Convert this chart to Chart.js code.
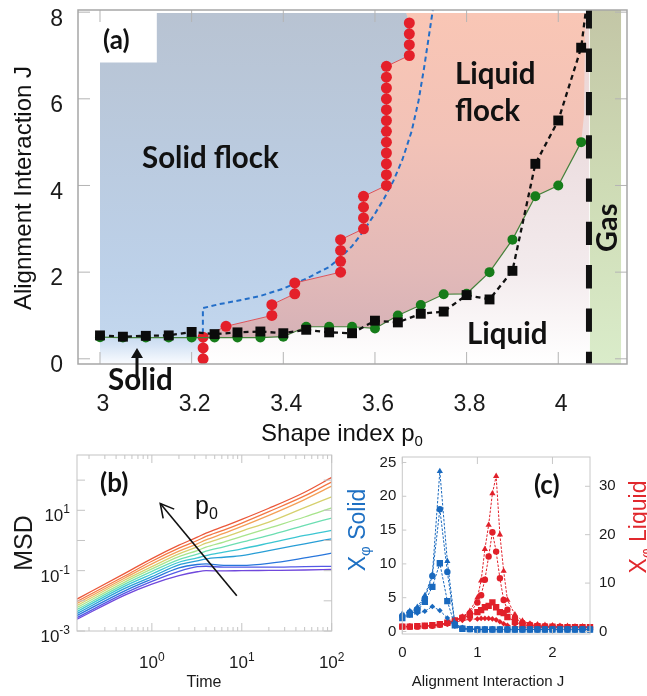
<!DOCTYPE html>
<html>
<head>
<meta charset="utf-8">
<title>Active vertex model phase diagram</title>
<script src="https://cdn.jsdelivr.net/npm/chart.js@4.4.1/dist/chart.umd.min.js"></script>
<style>
  html, body { margin:0; padding:0; background:#ffffff; }
  #fig { position:relative; width:647px; height:696px; overflow:hidden; background:#fff; }
  #fig canvas { position:absolute; }
</style>
</head>
<body>
<div id="fig">
  <canvas id="chartA" width="647" height="460" style="left:0px;top:0px;width:647px;height:460px"></canvas>
  <canvas id="chartB" width="360" height="256" style="left:0px;top:440px;width:360px;height:256px"></canvas>
  <canvas id="chartC" width="317" height="256" style="left:330px;top:440px;width:317px;height:256px"></canvas>
</div>
<script>
const SANS = '"Liberation Sans", Arial, Helvetica, sans-serif';
const BOLD = 'Lato, "Open Sans", "DejaVu Sans", sans-serif';

// ================= Panel (a) data =================
const A_X_TICKS = [3, 3.2, 3.4, 3.6, 3.8, 4];
const A_X_LABELS = ['3', '3.2', '3.4', '3.6', '3.8', '4'];
const A_Y_TICKS = [0, 2, 4, 6, 8];
const A_Y_LABELS = ['0', '2', '4', '6', '8'];
const A_X_RANGE = [2.952, 4.15];
const A_Y_RANGE = [-0.12, 8.05];

const P0 = [3.00,3.05,3.10,3.15,3.20,3.25,3.30,3.35,3.40,3.45,3.50,3.55,3.60,3.65,3.70,3.75,3.80,3.85,3.90,3.95,4.00,4.05];
const J_LIQUID = [0.54,0.51,0.53,0.54,0.62,0.57,0.61,0.63,0.59,0.67,0.61,0.59,0.88,0.84,1.04,1.09,1.47,1.37,2.03,4.50,5.50,7.18];
const J_FLOCK  = [0.50,0.49,0.49,0.49,0.49,0.49,0.49,0.49,0.51,0.74,0.74,0.74,0.70,1.00,1.24,1.49,1.50,2.00,2.75,3.75,4.00,5.00];
const P0_LIQUID_TAIL = [4.061];
const J_LIQUID_TAIL = [8.1];

const RED_P0 = [3.225,3.225,3.225,3.275,3.375,3.375,3.425,3.425,3.525,3.525,3.525,3.525,3.575,3.575,3.575,3.575,
                3.625,3.625,3.625,3.625,3.625,3.625,3.625,3.625,3.625,3.625,3.625,3.625,3.675,3.675,3.675,3.675];
const RED_J  = [0,0.25,0.5,0.75,1,1.25,1.5,1.75,2,2.25,2.5,2.75,3,3.25,3.5,3.75,
                4,4.25,4.5,4.75,5,5.25,5.5,5.75,6,6.25,6.5,6.75,7,7.25,7.5,7.75];

const BLUE_P0 = [3.2245,3.2245,3.26,3.30,3.35,3.40,3.45,3.50,3.525,3.55,3.575,3.60,3.62,3.64,3.66,3.68,3.695,3.707,3.717,3.727];
const BLUE_J  = [0,1.17,1.26,1.34,1.45,1.62,1.85,2.12,2.34,2.6,2.95,3.35,3.7,4.1,4.6,5.25,5.95,6.7,7.4,8.1];

const GAS_P0 = 4.067;
const GAS_BAND = [4.069, 4.137];
const REGION_TOP = 7.98;
const PINK_RIGHT_P0 = [4.059, 4.056];
const PINK_RIGHT_J = [7.98, 5.6];
const LABEL_BOX = [3.124, 6.84];

// ================= Panel (b) data =================
const TIME = [0.147, 0.5, 1, 2, 3.2, 4, 6.3, 10, 20, 50, 100];
const MSD_1  = [0.0114, 0.0815, 0.251, 0.699, 1.29, 1.75, 2.93, 5.01, 11.7, 39.8, 123];
const MSD_2  = [0.0095, 0.0664, 0.205, 0.555, 1.00, 1.36, 2.21, 3.78, 9.03, 30.0, 88];
const MSD_3  = [0.00815, 0.0570, 0.167, 0.441, 0.774, 1.05, 1.71, 2.93, 6.81, 22.7, 63];
const MSD_4  = [0.00699, 0.0489, 0.136, 0.359, 0.615, 0.815, 1.26, 2.05, 4.08, 12.3, 27.8];
const MSD_5  = [0.0060, 0.0419, 0.114, 0.293, 0.464, 0.600, 0.88, 1.36, 2.58, 6.0, 12.0];
const MSD_6  = [0.00514, 0.0359, 0.095, 0.233, 0.350, 0.441, 0.615, 0.88, 1.47, 3.16, 5.55];
const MSD_7  = [0.00441, 0.0308, 0.0774, 0.190, 0.264, 0.316, 0.409, 0.528, 0.815, 1.47, 2.15];
const MSD_8  = [0.00378, 0.0258, 0.0631, 0.155, 0.210, 0.245, 0.278, 0.316, 0.464, 0.774, 1.14];
const MSD_9  = [0.00324, 0.0215, 0.0528, 0.123, 0.160, 0.167, 0.150, 0.150, 0.175, 0.264, 0.378];
const MSD_10 = [0.00278, 0.0180, 0.0441, 0.095, 0.135, 0.140, 0.130, 0.130, 0.130, 0.136, 0.139];
const MSD_11 = [0.00245, 0.0155, 0.0359, 0.0681, 0.092, 0.100, 0.098, 0.100, 0.102, 0.105, 0.110];
const MSD_SERIES = [MSD_1, MSD_2, MSD_3, MSD_4, MSD_5, MSD_6, MSD_7, MSD_8, MSD_9, MSD_10, MSD_11];
const MSD_COLORS = ['rgb(235,88,58)','rgb(244,120,68)','rgb(244,160,88)','rgb(214,208,110)','rgb(168,228,140)',
                    'rgb(108,222,178)','rgb(60,198,210)','rgb(40,158,214)','rgb(40,118,220)','rgb(84,90,230)','rgb(112,72,220)'];
const B_X_MAJOR = [1, 10, 100];
const B_X_EXP = ['0', '1', '2'];
const B_Y_MAJOR = [1e-3, 1e-2, 1e-1, 1, 10, 100];
const B_Y_LABELED = [10, 0.1, 0.001];
const B_Y_EXP = ['1', '-1', '-3'];
const B_X_RANGE = [0.147, 100];
const B_Y_RANGE = [0.001, 681];

// ================= Panel (c) data =================
const C_J_SOLID = [0,0.1,0.2,0.3,0.4,0.5,0.6,0.7,0.8,0.9,1.0,1.1,1.2,1.3,1.4,1.5,1.6,1.7,1.8,1.9,2.0,2.1,2.2,2.3,2.4,2.5];
const SOLID_TRI  = [2.6,3.0,3.6,5.3,8.4,23.7,10.4,1.2,0.5,0.35,0.3,0.3,0.3,0.3,0.3,0.3,0.3,0.3,0.3,0.3,0.3,0.3,0.3,0.3,0.3,0.3];
const SOLID_CIRC = [2.3,2.8,3.3,4.9,8.2,18.1,8.8,1.1,0.45,0.35,0.3,0.3,0.3,0.3,0.3,0.3,0.3,0.3,0.3,0.3,0.3,0.3,0.3,0.3,0.3,0.3];
const SOLID_SQ   = [2.0,2.5,3.1,4.4,6.6,10.1,4.5,0.9,0.4,0.35,0.3,0.3,0.3,0.3,0.3,0.3,0.3,0.3,0.3,0.3,0.3,0.3,0.3,0.3,0.3,0.3];
const SOLID_DIA  = [2.2,2.4,2.7,3.0,3.7,3.1,2.0,0.8,0.4,0.35,0.3,0.3,0.3,0.3,0.3,0.3,0.3,0.3,0.3,0.3,0.3,0.3,0.3,0.3,0.3,0.3];
const C_J_LIQUID = [0,0.1,0.2,0.3,0.4,0.5,0.6,0.7,0.8,0.9,1.0,1.05,1.1,1.15,1.2,1.25,1.3,1.35,1.4,1.5,1.6,1.7,1.8,1.9,2.0,2.1,2.2,2.3,2.4,2.5];
const LIQ_TRI  = [1.0,1.0,1.0,1.1,1.2,1.4,1.8,2.3,3.0,4.2,7.0,10.5,17.0,22.0,28.5,32.1,20.0,12.5,6.5,3.5,2.2,1.6,1.4,1.3,1.2,1.1,1.1,1.0,1.0,0.9];
const LIQ_CIRC = [1.0,1.0,1.0,1.1,1.2,1.4,1.7,2.2,2.9,3.8,6.0,7.5,10.7,15.5,20.5,16.5,11.0,6.5,4.5,2.8,1.8,1.4,1.2,1.1,1.0,1.0,0.9,0.9,0.9,0.9];
const LIQ_SQ   = [1.0,1.0,1.1,1.2,1.3,1.5,1.8,2.3,2.8,3.3,4.0,4.4,5.0,5.3,6.0,5.0,4.0,3.8,3.0,2.0,1.4,1.2,1.1,1.0,1.0,0.9,0.9,0.9,0.9,0.9];
const LIQ_DIA  = [1.0,1.0,1.0,1.1,1.2,1.3,1.5,1.9,2.3,2.5,2.6,2.7,2.7,2.7,2.6,2.4,2.0,1.6,1.3,1.0,0.9,0.9,0.9,0.8,0.8,0.8,0.8,0.8,0.8,0.8];
const C_X_TICKS = [0, 1, 2];
const C_X_LABELS = ['0', '1', '2'];
const C_YL_TICKS = [0, 5, 10, 15, 20, 25];
const C_YL_LABELS = ['0', '5', '10', '15', '20', '25'];
const C_YR_TICKS = [0, 10, 20, 30];
const C_YR_LABELS = ['0', '10', '20', '30'];
const C_X_RANGE = [0, 2.5];
const C_YL_RANGE = [-0.37, 25.81];
const C_YR_RANGE = [-0.52, 36.05];

// ================= helpers =================
const pts = (xs, ys) => xs.map((x, i) => ({ x: x, y: ys[i] }));

function richText(ctx, parts, x, y, opts) {
  opts = opts || {};
  ctx.save();
  ctx.translate(x, y);
  if (opts.rot) ctx.rotate(opts.rot);
  ctx.fillStyle = opts.color || '#111';
  ctx.textBaseline = 'alphabetic';
  ctx.textAlign = 'left';
  let total = 0;
  parts.forEach(p => { ctx.font = p.font; p.w = ctx.measureText(p.t).width; total += p.w; });
  let cx = opts.align === 'center' ? -total / 2 : (opts.align === 'right' ? -total : 0);
  parts.forEach(p => { ctx.font = p.font; ctx.fillText(p.t, cx, p.dy || 0); cx += p.w; });
  ctx.restore();
}

function fillPoly(ctx, sx, sy, xs, ys, fill) {
  ctx.beginPath();
  xs.forEach((v, i) => {
    const px = sx.getPixelForValue(v), py = sy.getPixelForValue(ys[i]);
    if (i === 0) ctx.moveTo(px, py); else ctx.lineTo(px, py);
  });
  ctx.closePath();
  ctx.fillStyle = fill;
  ctx.fill();
}

function vGrad(ctx, sy, stops) {
  const y0 = sy.getPixelForValue(stops[0][0]);
  const y1 = sy.getPixelForValue(stops[stops.length - 1][0]);
  const g = ctx.createLinearGradient(0, y0, 0, y1);
  stops.forEach(s => {
    const f = (sy.getPixelForValue(s[0]) - y0) / (y1 - y0);
    g.addColorStop(Math.min(1, Math.max(0, f)), s[1]);
  });
  return g;
}

function fixedTicks(list) { return s => { s.ticks = list.map(v => ({ value: v })); }; }
function fitBox(dim, size) {
  return s => { s[dim] = size; s.paddingTop = 0; s.paddingBottom = 0; s.paddingLeft = 0; s.paddingRight = 0; };
}

// ================= Panel (a) =================
const regionsA = {
  id: 'regionsA',
  beforeDatasetsDraw(chart) {
    const { ctx, chartArea, scales: { x, y } } = chart;
    ctx.save();
    ctx.beginPath();
    ctx.rect(chartArea.left, chartArea.top, chartArea.right - chartArea.left, chartArea.bottom - chartArea.top);
    ctx.clip();
    const yMin = A_Y_RANGE[0];
    // Liquid (below flocking line)
    fillPoly(ctx, x, y, [3.225, GAS_P0, GAS_P0, 3.225], [yMin, yMin, REGION_TOP, REGION_TOP],
      vGrad(ctx, y, [[REGION_TOP, 'rgb(238,212,210)'], [5, 'rgb(236,221,223)'], [2, 'rgb(243,235,237)'], [yMin, 'rgb(255,255,255)']]));
    // Liquid flock
    const redUp = RED_J.map((j, i) => i).filter(i => RED_J[i] >= 0.5);
    const grIdx = P0.map((p, i) => i).filter(i => P0[i] >= 3.25).reverse();
    const pxs = redUp.map(i => RED_P0[i]).concat([3.668], PINK_RIGHT_P0, grIdx.map(i => P0[i]), [3.225]);
    const pys = redUp.map(i => RED_J[i]).concat([REGION_TOP], PINK_RIGHT_J, grIdx.map(i => J_FLOCK[i]), [0.49]);
    fillPoly(ctx, x, y, pxs, pys,
      vGrad(ctx, y, [[REGION_TOP, 'rgb(249,198,181)'], [5, 'rgb(242,194,183)'], [2, 'rgb(226,185,184)'], [0.5, 'rgb(214,178,183)']]));
    // Solid flock + solid
    const redDown = RED_P0.map((p, i) => i).reverse();
    const bxs = [3.0, 3.0, 3.668].concat(redDown.map(i => RED_P0[i]), [3.225]);
    const bys = [yMin, REGION_TOP, REGION_TOP].concat(redDown.map(i => RED_J[i]), [yMin]);
    fillPoly(ctx, x, y, bxs, bys,
      vGrad(ctx, y, [[REGION_TOP, 'rgb(184,195,210)'], [5, 'rgb(186,202,222)'], [2, 'rgb(189,209,233)'],
                     [0.6, 'rgb(194,214,237)'], [0.3, 'rgb(214,228,245)'], [yMin, 'rgb(250,252,255)']]));
    // Gas
    fillPoly(ctx, x, y, [GAS_BAND[0], GAS_BAND[1], GAS_BAND[1], GAS_BAND[0]], [yMin, yMin, A_Y_RANGE[1], A_Y_RANGE[1]],
      vGrad(ctx, y, [[A_Y_RANGE[1], 'rgb(195,198,166)'], [4, 'rgb(206,219,181)'], [yMin, 'rgb(218,236,202)']]));
    // white label box
    fillPoly(ctx, x, y, [A_X_RANGE[0], LABEL_BOX[0], LABEL_BOX[0], A_X_RANGE[0]],
      [LABEL_BOX[1], LABEL_BOX[1], A_Y_RANGE[1], A_Y_RANGE[1]], '#ffffff');
    ctx.restore();
  }
};

const frameA = {
  id: 'frameA',
  afterDraw(chart) {
    const { ctx, chartArea: { left, right, top, bottom }, scales: { x, y } } = chart;
    ctx.save();
    ctx.strokeStyle = '#b4b4b4';
    ctx.lineWidth = 1;
    ctx.beginPath();
    A_X_TICKS.forEach(v => { const px = x.getPixelForValue(v); ctx.moveTo(px, bottom); ctx.lineTo(px, bottom - 12); ctx.moveTo(px, top); ctx.lineTo(px, top + 12); });
    A_Y_TICKS.forEach(v => { const py = y.getPixelForValue(v); ctx.moveTo(left, py); ctx.lineTo(left + 12, py); ctx.moveTo(right, py); ctx.lineTo(right - 12, py); });
    ctx.stroke();
    ctx.strokeStyle = '#a6a6a6';
    ctx.lineWidth = 1.5;
    ctx.strokeRect(left, top, right - left, bottom - top);

    // annotations
    const B29 = 'bold 29.5px ' + BOLD;
    richText(ctx, [{ t: '(a)', font: 'bold 26px ' + BOLD }], 103, 49);
    richText(ctx, [{ t: 'Solid flock', font: B29 }], 142, 168);
    richText(ctx, [{ t: 'Liquid', font: B29 }], 455, 84);
    richText(ctx, [{ t: 'flock', font: B29 }], 455, 121);
    richText(ctx, [{ t: 'Liquid', font: B29 }], 467, 344);
    richText(ctx, [{ t: 'Solid', font: B29 }], 108, 390);
    richText(ctx, [{ t: 'Gas', font: 'bold 29px ' + BOLD }], 617, 252, { rot: -Math.PI / 2 });
    // arrow to Solid region
    ctx.fillStyle = '#111'; ctx.strokeStyle = '#111';
    ctx.lineWidth = 3;
    ctx.beginPath(); ctx.moveTo(137, 377); ctx.lineTo(137, 356); ctx.stroke();
    ctx.beginPath(); ctx.moveTo(137, 348); ctx.lineTo(131, 358); ctx.lineTo(143, 358); ctx.closePath(); ctx.fill();
    // axis titles
    richText(ctx, [{ t: 'Alignment Interaction J', font: '24px ' + SANS }], 31, 188, { rot: -Math.PI / 2, align: 'center' });
    richText(ctx, [{ t: 'Shape index p', font: '24px ' + SANS }, { t: '0', font: '15px ' + SANS, dy: 5 }], 342, 441, { align: 'center' });
    ctx.restore();
  }
};

new Chart(document.getElementById('chartA'), {
  type: 'scatter',
  data: {
    datasets: [
      { label: 'Gas boundary', data: [{ x: GAS_P0, y: A_Y_RANGE[0] }, { x: GAS_P0, y: A_Y_RANGE[1] }],
        showLine: true, borderColor: '#111', borderWidth: 6, borderDash: [23.3, 20], borderDashOffset: 11,
        borderCapStyle: 'butt', pointRadius: 0, order: 0 },
      { label: 'Liquid onset', data: pts(P0, J_LIQUID).concat(pts(P0_LIQUID_TAIL, J_LIQUID_TAIL)),
        showLine: true, borderColor: '#111', borderWidth: 2.3, borderDash: [5, 4],
        pointStyle: 'rect', pointRadius: c => (c.dataIndex < P0.length ? 7 : 0),
        pointBackgroundColor: '#0b0b0b', pointBorderColor: '#0b0b0b', pointBorderWidth: 0, order: 1 },
      { label: 'Flocking onset', data: pts(P0, J_FLOCK), showLine: true,
        borderColor: 'rgb(70,130,60)', borderWidth: 1.2, pointRadius: 5,
        pointBackgroundColor: 'rgb(22,124,26)', pointBorderColor: 'rgb(22,124,26)', pointBorderWidth: 0, order: 2 },
      { label: 'Solid flock boundary', data: pts(RED_P0, RED_J), showLine: true,
        borderColor: 'rgb(222,82,88)', borderWidth: 1, pointRadius: 5.5,
        pointBackgroundColor: 'rgb(228,32,42)', pointBorderColor: 'rgb(228,32,42)', pointBorderWidth: 0, order: 3 },
      { label: 'Rigidity boundary', data: pts(BLUE_P0, BLUE_J), showLine: true,
        borderColor: 'rgb(35,110,200)', borderWidth: 2, borderDash: [5, 3.5], pointRadius: 0, order: 4 }
    ]
  },
  options: {
    responsive: false, animation: false, devicePixelRatio: 1, events: [],
    layout: { padding: { left: 0, right: 20, top: 10, bottom: 0 } },
    plugins: { legend: { display: false }, tooltip: { enabled: false } },
    scales: {
      x: { type: 'linear', min: A_X_RANGE[0], max: A_X_RANGE[1], afterBuildTicks: fixedTicks(A_X_TICKS),
           ticks: { callback: (v, i) => A_X_LABELS[i], font: { family: SANS, size: 23 }, color: '#1a1a1a', padding: 27, labelOffset: 3, autoSkip: false, maxRotation: 0 },
           grid: { display: false, drawTicks: false }, border: { display: false }, afterFit: fitBox('height', 96) },
      y: { type: 'linear', min: A_Y_RANGE[0], max: A_Y_RANGE[1], afterBuildTicks: fixedTicks(A_Y_TICKS),
           ticks: { callback: (v, i) => A_Y_LABELS[i], font: { family: SANS, size: 23 }, color: '#1a1a1a', padding: 15, labelOffset: 7, autoSkip: false },
           grid: { display: false, drawTicks: false }, border: { display: false }, afterFit: fitBox('width', 78) }
    }
  },
  plugins: [regionsA, frameA]
});

// ================= Panel (b) =================
const frameB = {
  id: 'frameB',
  afterDraw(chart) {
    const { ctx, chartArea: { left, right, top, bottom }, scales: { x, y } } = chart;
    ctx.save();
    ctx.strokeStyle = '#c4c4c4';
    ctx.lineWidth = 1;
    ctx.beginPath();
    const minors = [];
    [0.1, 1, 10].forEach(d => { for (let k = 2; k <= 9; k++) minors.push(k * d); });
    minors.filter(v => v > B_X_RANGE[0] && v < B_X_RANGE[1]).forEach(v => {
      const px = x.getPixelForValue(v); ctx.moveTo(px, bottom); ctx.lineTo(px, bottom - 4); ctx.moveTo(px, top); ctx.lineTo(px, top + 4);
    });
    B_X_MAJOR.forEach(v => { const px = x.getPixelForValue(v); ctx.moveTo(px, bottom); ctx.lineTo(px, bottom - 8); ctx.moveTo(px, top); ctx.lineTo(px, top + 8); });
    B_Y_MAJOR.forEach(v => { const py = y.getPixelForValue(v); ctx.moveTo(left, py); ctx.lineTo(left + 8, py); ctx.moveTo(right, py); ctx.lineTo(right - 8, py); });
    ctx.stroke();
    ctx.strokeRect(left, top, right - left, bottom - top);

    const base = '17px ' + SANS, sup = '12px ' + SANS;
    B_X_MAJOR.forEach((v, i) => {
      richText(ctx, [{ t: '10', font: base }, { t: B_X_EXP[i], font: sup, dy: -7 }], x.getPixelForValue(v), bottom + 37, { align: 'center', color: '#1a1a1a' });
    });
    B_Y_LABELED.forEach((v, i) => {
      richText(ctx, [{ t: '10', font: base }, { t: B_Y_EXP[i], font: sup, dy: -8 }], 70, y.getPixelForValue(v) + 11, { align: 'right', color: '#1a1a1a' });
    });
    richText(ctx, [{ t: 'MSD', font: '25px ' + SANS }], 31.5, 103, { rot: -Math.PI / 2, align: 'center', color: '#1a1a1a' });
    richText(ctx, [{ t: 'Time', font: '16px ' + SANS }], 204, 247, { align: 'center', color: '#1a1a1a' });
    richText(ctx, [{ t: '(b)', font: 'bold 26px ' + BOLD }], 100, 52);
    // arrow along increasing p0
    const x0 = x.getPixelForValue(8.8), y0 = y.getPixelForValue(0.0147);
    const x1 = x.getPixelForValue(1.24), y1 = y.getPixelForValue(16.7);
    ctx.strokeStyle = '#111'; ctx.lineWidth = 1.6;
    ctx.beginPath(); ctx.moveTo(x0, y0); ctx.lineTo(x1, y1); ctx.stroke();
    const ang = Math.atan2(y1 - y0, x1 - x0), L = 15, W = 0.5;
    ctx.beginPath();
    ctx.moveTo(x1 - L * Math.cos(ang - W), y1 - L * Math.sin(ang - W));
    ctx.lineTo(x1, y1);
    ctx.lineTo(x1 - L * Math.cos(ang + W), y1 - L * Math.sin(ang + W));
    ctx.stroke();
    richText(ctx, [{ t: 'p', font: '25px ' + SANS }, { t: '0', font: '16px ' + SANS, dy: 5 }], 195, 74, { color: '#111' });
    ctx.restore();
  }
};

new Chart(document.getElementById('chartB'), {
  type: 'scatter',
  data: {
    datasets: MSD_SERIES.map((vals, i) => ({
      label: 'p0 #' + (MSD_SERIES.length - i),
      data: pts(TIME, vals), showLine: true, borderColor: MSD_COLORS[i], borderWidth: 1.3,
      pointRadius: 0, cubicInterpolationMode: 'monotone'
    }))
  },
  options: {
    responsive: false, animation: false, devicePixelRatio: 1, events: [],
    layout: { padding: { left: 77, right: 28.3, top: 15, bottom: 65 } },
    plugins: { legend: { display: false }, tooltip: { enabled: false } },
    scales: {
      x: { type: 'logarithmic', min: B_X_RANGE[0], max: B_X_RANGE[1], display: false },
      y: { type: 'logarithmic', min: B_Y_RANGE[0], max: B_Y_RANGE[1], display: false }
    }
  },
  plugins: [frameB]
});

// ================= Panel (c) =================
const BLUE_C = 'rgb(25,105,190)';
const RED_C = 'rgb(225,32,42)';
function cSet(label, xs, ys, color, style, r, axis) {
  return { label: label, data: pts(xs, ys), yAxisID: axis, showLine: true, borderColor: color, borderWidth: 1,
           borderDash: [2.5, 1.5], pointStyle: style, pointRadius: r, pointBackgroundColor: color,
           pointBorderColor: color, pointBorderWidth: 0, clip: 6 };
}
const frameC = {
  id: 'frameC',
  afterDraw(chart) {
    const { ctx, chartArea: { left, right, top, bottom }, scales } = chart;
    const x = scales.x, yl = scales.y, yr = scales.y2;
    ctx.save();
    ctx.strokeStyle = '#c8c8c8';
    ctx.lineWidth = 1;
    ctx.beginPath();
    C_X_TICKS.forEach(v => { const px = x.getPixelForValue(v); ctx.moveTo(px, bottom); ctx.lineTo(px, bottom - 5); ctx.moveTo(px, top); ctx.lineTo(px, top + 7); });
    C_YL_TICKS.forEach(v => { const py = yl.getPixelForValue(v); ctx.moveTo(left, py); ctx.lineTo(left + 4, py); });
    C_YR_TICKS.forEach(v => { const py = yr.getPixelForValue(v); ctx.moveTo(right, py); ctx.lineTo(right - 5, py); });
    ctx.stroke();
    ctx.strokeRect(left, top, right - left, bottom - top);
    richText(ctx, [{ t: '(c)', font: 'bold 26px ' + BOLD }], 204, 54);
    richText(ctx, [{ t: 'X', font: '23px ' + SANS }, { t: 'φ', font: '15px ' + SANS, dy: 5 }, { t: ' Solid', font: '23px ' + SANS }],
      35, 90, { rot: -Math.PI / 2, align: 'center', color: 'rgb(30,112,195)' });
    richText(ctx, [{ t: 'X', font: '23px ' + SANS }, { t: 'φ', font: '15px ' + SANS, dy: 5 }, { t: ' Liquid', font: '23px ' + SANS }],
      316, 87, { rot: -Math.PI / 2, align: 'center', color: 'rgb(225,40,45)' });
    richText(ctx, [{ t: 'Alignment Interaction J', font: '15px ' + SANS }], 158, 246, { align: 'center', color: '#1a1a1a' });
    ctx.restore();
  }
};

new Chart(document.getElementById('chartC'), {
  type: 'scatter',
  data: {
    datasets: [
      cSet('Solid N1', C_J_SOLID, SOLID_TRI, BLUE_C, 'triangle', 3.6, 'y'),
      cSet('Solid N2', C_J_SOLID, SOLID_CIRC, BLUE_C, 'circle', 3.2, 'y'),
      cSet('Solid N3', C_J_SOLID, SOLID_SQ, BLUE_C, 'rect', 4.5, 'y'),
      cSet('Solid N4', C_J_SOLID, SOLID_DIA, BLUE_C, 'rectRot', 2.8, 'y'),
      cSet('Liquid N1', C_J_LIQUID, LIQ_TRI, RED_C, 'triangle', 3.6, 'y2'),
      cSet('Liquid N2', C_J_LIQUID, LIQ_CIRC, RED_C, 'circle', 3.2, 'y2'),
      cSet('Liquid N3', C_J_LIQUID, LIQ_SQ, RED_C, 'rect', 4.5, 'y2'),
      cSet('Liquid N4', C_J_LIQUID, LIQ_DIA, RED_C, 'rectRot', 2.8, 'y2')
    ]
  },
  options: {
    responsive: false, animation: false, devicePixelRatio: 1, events: [],
    layout: { padding: { left: 0, right: 0, top: 17, bottom: 0 } },
    plugins: { legend: { display: false }, tooltip: { enabled: false } },
    scales: {
      x: { type: 'linear', min: C_X_RANGE[0], max: C_X_RANGE[1], afterBuildTicks: fixedTicks(C_X_TICKS),
           ticks: { callback: (v, i) => C_X_LABELS[i], font: { family: SANS, size: 15 }, color: '#1a1a1a', padding: 10, autoSkip: false, maxRotation: 0 },
           grid: { display: false, drawTicks: false }, border: { display: false }, afterFit: fitBox('height', 62) },
      y: { type: 'linear', position: 'left', min: C_YL_RANGE[0], max: C_YL_RANGE[1], afterBuildTicks: fixedTicks(C_YL_TICKS),
           ticks: { callback: (v, i) => C_YL_LABELS[i], font: { family: SANS, size: 15 }, color: '#1a1a1a', padding: 6, autoSkip: false },
           grid: { display: false, drawTicks: false }, border: { display: false }, afterFit: fitBox('width', 72.3) },
      y2: { type: 'linear', position: 'right', min: C_YR_RANGE[0], max: C_YR_RANGE[1], afterBuildTicks: fixedTicks(C_YR_TICKS),
           ticks: { callback: (v, i) => C_YR_LABELS[i], font: { family: SANS, size: 15 }, color: '#1a1a1a', padding: 9, autoSkip: false },
           grid: { display: false, drawTicks: false }, border: { display: false }, afterFit: fitBox('width', 57) }
    }
  },
  plugins: [frameC]
});
</script>
</body>
</html>
